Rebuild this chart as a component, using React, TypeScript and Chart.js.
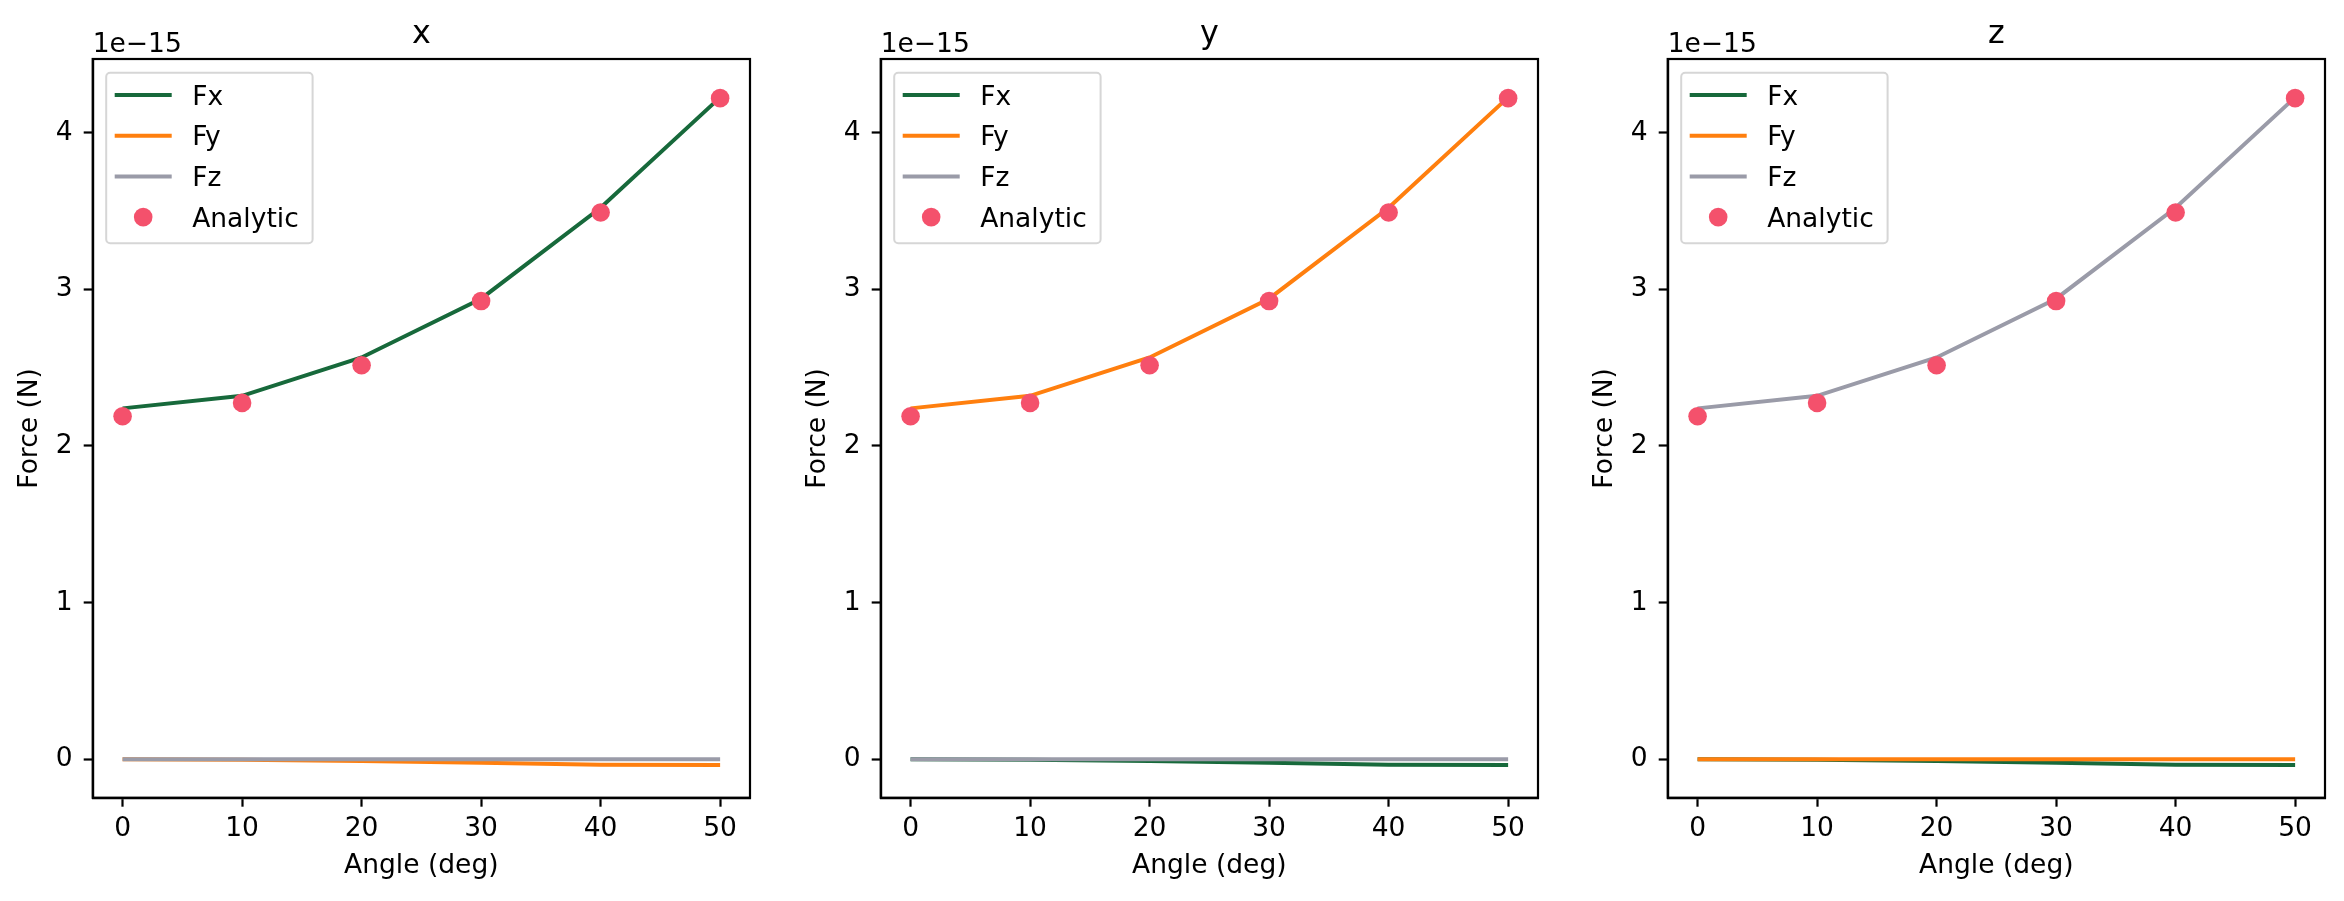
import React, { useEffect, useRef } from "react";
import { Chart, registerables } from "chart.js";

Chart.register(...registerables);

// values are in units of 1e-15 N (shown by the offset label)
const angles = [0, 10, 20, 30, 40, 50];
const simulated = [2.24, 2.32, 2.565, 2.94, 3.52, 4.225];
const analytic = [2.19, 2.275, 2.515, 2.925, 3.49, 4.22];
const crossTalk = [0, -0.003, -0.01, -0.022, -0.035, -0.036];
const flat = [0, 0, 0, 0, 0, 0];
const xTicks = [0, 10, 20, 30, 40, 50];
const yTicks = [0, 1, 2, 3, 4];
const seriesNames = ["Fx", "Fy", "Fz", "Analytic"];
const offsetLabel = "1e\u221215";

const panels = [
  { title: "x", series: [simulated, crossTalk, flat] },
  { title: "y", series: [crossTalk, simulated, flat] },
  { title: "z", series: [crossTalk, flat, simulated] },
];

const COLORS = ["#17693b", "#ff7f0e", "#9a9ba8", "#f4516c"];
const FONT = "'DejaVu Sans', sans-serif";
const FS = 26.5;
const TITLE_FS = 31.8;

const CANVAS_W = 769;
const CANVAS_H = 901;

const toPoints = (vals) => angles.map((a, i) => ({ x: a, y: vals[i] }));

// spines, title, offset text and the matplotlib-like legend
const decorPlugin = {
  id: "decor",
  afterDatasetsDraw(chart, args, opts) {
    const { ctx, chartArea: ca } = chart;
    ctx.save();
    ctx.strokeStyle = "#000";
    ctx.lineWidth = 2.2;
    ctx.strokeRect(ca.left, ca.top, ca.right - ca.left, ca.bottom - ca.top);

    ctx.fillStyle = "#000";
    ctx.textBaseline = "alphabetic";
    ctx.textAlign = "center";
    ctx.font = `${TITLE_FS}px ${FONT}`;
    ctx.fillText(opts.title, (ca.left + ca.right) / 2, 43.3);
    ctx.font = `${FS}px ${FONT}`;
    ctx.textAlign = "left";
    ctx.fillText(offsetLabel, ca.left, 51.7);

    // legend
    const bx = ca.left + 13.5;
    const by = 72.7;
    const bw = 206.4;
    const bh = 170.6;
    ctx.beginPath();
    ctx.roundRect(bx, by, bw, bh, 4);
    ctx.fillStyle = "rgba(255,255,255,0.8)";
    ctx.fill();
    ctx.strokeStyle = "#d6d6d6";
    ctx.lineWidth = 2;
    ctx.stroke();

    seriesNames.forEach((name, i) => {
      const cy = by + 22.3 + i * 40.7;
      if (i < 3) {
        ctx.beginPath();
        ctx.moveTo(bx + 8.5, cy);
        ctx.lineTo(bx + 65.5, cy);
        ctx.strokeStyle = COLORS[i];
        ctx.lineWidth = 4;
        ctx.stroke();
      } else {
        ctx.beginPath();
        ctx.arc(bx + 37, cy, 9.3, 0, Math.PI * 2);
        ctx.fillStyle = COLORS[3];
        ctx.fill();
      }
      ctx.fillStyle = "#000";
      ctx.textAlign = "left";
      ctx.fillText(name, bx + 86, cy + 9.7);
    });
    ctx.restore();
  },
};

const Panel = ({ title, series, left }) => {
  const chartRef = useRef(null);
  const chartInstance = useRef(null);

  useEffect(() => {
    const datasets = series.map((vals, i) => ({
      label: seriesNames[i],
      data: toPoints(vals),
      borderColor: COLORS[i],
      backgroundColor: COLORS[i],
      borderWidth: 4,
      pointRadius: 0,
      tension: 0,
      fill: false,
      order: 4 - i,
    }));
    datasets.push({
      label: "Analytic",
      data: toPoints(analytic),
      showLine: false,
      pointRadius: 9.3,
      pointBackgroundColor: COLORS[3],
      pointBorderWidth: 0,
      borderColor: COLORS[3],
      backgroundColor: COLORS[3],
      order: 0,
    });

    const tickFont = { family: FONT, size: FS };
    const config = {
      type: "line",
      data: { datasets },
      options: {
        animation: false,
        responsive: false,
        devicePixelRatio: 1,
        layout: { padding: { top: 59, right: 19, bottom: 0, left: 0 } },
        plugins: {
          legend: { display: false },
          tooltip: { enabled: false },
          title: { display: false },
          decor: { title },
        },
        scales: {
          x: {
            type: "linear",
            min: -2.5,
            max: 52.5,
            afterBuildTicks: (axis) => {
              axis.ticks = xTicks.map((v) => ({ value: v }));
            },
            afterFit: (s) => {
              s.height = CANVAS_H - 797.7;
            },
            grid: {
              display: true,
              drawOnChartArea: false,
              drawTicks: true,
              tickLength: 9,
              tickWidth: 2.2,
              tickColor: "#000",
            },
            border: { display: true, color: "#000", width: 2.2 },
            ticks: {
              color: "#000",
              font: tickFont,
              padding: 7,
              maxRotation: 0,
              autoSkip: false,
            },
            title: {
              display: true,
              text: "Angle (deg)",
              color: "#000",
              font: tickFont,
              padding: { top: 0, bottom: 19 },
            },
          },
          y: {
            type: "linear",
            min: -0.245,
            max: 4.47,
            afterBuildTicks: (axis) => {
              axis.ticks = yTicks.map((v) => ({ value: v }));
            },
            afterFit: (s) => {
              s.width = 92.7;
            },
            grid: {
              display: true,
              drawOnChartArea: false,
              drawTicks: true,
              tickLength: 9,
              tickWidth: 2.2,
              tickColor: "#000",
            },
            border: { display: true, color: "#000", width: 2.2 },
            ticks: {
              color: "#000",
              font: tickFont,
              padding: 11,
              autoSkip: false,
            },
            title: {
              display: true,
              text: "Force (N)",
              color: "#000",
              font: tickFont,
              padding: { top: 14, bottom: 0 },
            },
          },
        },
      },
      plugins: [decorPlugin],
    };

    if (chartInstance.current) {
      chartInstance.current.destroy();
    }
    if (chartRef.current) {
      chartInstance.current = new Chart(chartRef.current, config);
    }
    return () => {
      if (chartInstance.current) {
        chartInstance.current.destroy();
        chartInstance.current = null;
      }
    };
  }, [title, series]);

  return (
    <canvas
      ref={chartRef}
      width={CANVAS_W}
      height={CANVAS_H}
      style={{ position: "absolute", left, top: 0, width: CANVAS_W, height: CANVAS_H }}
    />
  );
};

const App = () => {
  const lefts = [0, 788, 1575];
  return (
    <div
      style={{
        position: "fixed",
        left: 0,
        top: 0,
        width: 2344,
        height: 901,
        background: "#fff",
        overflow: "hidden",
      }}
    >
      {panels.map((p, i) => (
        <Panel key={p.title} title={p.title} series={p.series} left={lefts[i]} />
      ))}
    </div>
  );
};

export default App;
